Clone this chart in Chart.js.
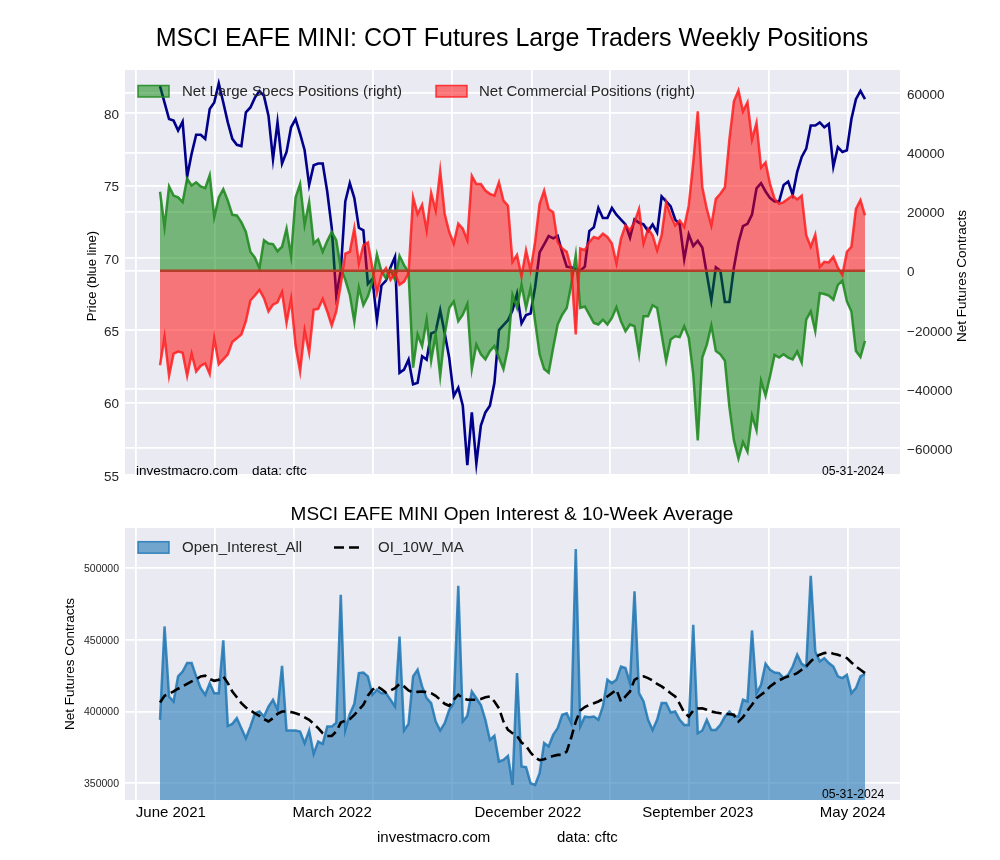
<!DOCTYPE html>
<html>
<head>
<meta charset="utf-8">
<script src="https://cdn.jsdelivr.net/npm/chart.js@4.4.1/dist/chart.umd.min.js"></script>
<style>
  html, body { margin: 0; padding: 0; background: #ffffff; }
  #wrap { position: relative; width: 1000px; height: 860px; background: #ffffff; }
  canvas { position: absolute; left: 0; }
</style>
</head>
<body>
<div id="wrap">
  <canvas id="c1" width="1000" height="490" style="top:0px"></canvas>
  <canvas id="c2" width="1000" height="370" style="top:490px"></canvas>
</div>
<script>
// ---------------- DATA (weekly, June 2021 -> May 2024) ----------------
const price = [81.89,80.75,79.61,79.50,78.81,79.43,75.62,77.22,78.52,78.52,
78.24,80.30,80.75,82.07,80.75,79.38,78.24,77.83,77.74,80.07,
80.41,81.09,81.55,81.21,79.84,76.83,79.38,76.53,77.33,79.04,
79.61,78.59,77.45,75.05,76.42,76.53,76.53,74.60,72.09,67.41,
69.12,73.91,75.17,74.14,72.09,71.91,68.21,68.55,65.70,68.10,
68.44,69.35,70.08,62.06,62.28,62.97,61.26,61.37,63.20,62.97,
64.79,64.91,66.39,64.79,63.08,60.46,61.03,59.78,55.67,59.32,
55.79,58.41,59.32,59.78,61.37,65.02,65.36,65.70,66.39,67.53,
65.48,66.05,66.16,67.98,70.38,70.95,71.52,71.36,71.52,70.38,
69.40,69.35,69.24,69.12,69.40,71.86,72.13,73.46,72.77,72.77,
73.46,73.00,72.66,72.32,71.40,72.66,72.43,72.32,71.86,72.32,
71.75,74.25,73.91,73.57,72.66,72.32,69.92,71.63,70.83,71.18,
70.72,68.90,67.07,69.35,69.12,66.96,66.96,69.35,71.06,72.20,
72.36,73.00,74.82,75.17,74.60,74.14,73.91,73.91,75.05,75.28,
74.37,75.96,76.99,77.56,79.16,79.16,79.38,79.04,79.27,76.31,
77.67,77.33,77.45,79.61,80.98,81.55,80.98];

const netLargeSpecs = [26700,14800,28500,25400,24800,23200,31200,28800,29900,28500,
27900,32300,18100,24800,27600,23700,18900,18700,16400,13100,
6400,4400,800,10300,9200,9000,6600,8100,14200,5000,
24800,29300,15600,23200,9200,10600,6400,10000,13100,10300,
800,-3100,-8200,-17300,-5700,-11700,-8700,-3700,5500,-300,
-2600,200,-3100,5000,1900,-600,-32800,-21600,-25500,-16600,
-30500,-21600,-35600,-21600,-12600,-10400,-17100,-14900,-11300,-33300,
-25000,-28300,-30000,-27200,-25500,-29400,-33300,-26100,-8200,-12600,
-4800,-12600,-5900,-17100,-28300,-33300,-34500,-26100,-18200,-14900,
-12600,-4800,5300,-12600,-12100,-14900,-17700,-18200,-16600,-18200,
-16000,-12400,-17100,-20500,-18200,-18800,-28300,-15400,-15400,-11700,
-12600,-21600,-30500,-23300,-22200,-22500,-18800,-22700,-35000,-57400,
-29400,-25000,-18500,-27200,-28300,-30500,-46200,-57400,-63600,-58000,
-61300,-49000,-54000,-37300,-42300,-35600,-28500,-29400,-28300,-29400,
-30000,-27400,-31100,-16600,-13800,-20500,-7600,-7900,-8400,-9800,
-4800,-3400,-10400,-13800,-27200,-29200,-23800];

const netCommercial = [-32000,-22500,-35600,-28100,-27400,-27800,-35600,-28100,-34100,-32200,
-31400,-35000,-22900,-31700,-30000,-28300,-24100,-22900,-21600,-17100,
-10100,-8400,-6500,-9300,-13800,-11500,-10700,-7300,-17700,-9600,
-25500,-34100,-20300,-27800,-13200,-12900,-9600,-13800,-18600,-13800,
-4800,5800,6400,14400,2500,8600,9500,800,-7600,-1500,
800,-3100,-900,-4800,-3700,-900,24800,19200,22300,13700,
26300,20400,33800,19200,13100,9200,15900,14200,10300,32100,
29300,29300,27100,26000,25400,29900,23700,22000,3000,5300,
-2000,6900,200,9700,22600,27100,20900,19800,9700,7500,
6400,800,-21600,7500,6900,9700,11400,10900,12500,11400,
9200,2500,10900,15300,13700,16400,20900,9200,14200,12000,
6900,12000,23200,18700,15300,17000,14800,22000,36600,53900,
28200,20900,15300,24300,26000,28200,44400,57300,61000,53900,
57000,44400,50000,34900,36600,29300,24300,22600,23200,24300,
25400,24100,25400,12000,8100,12200,1300,3000,2800,4700,
1000,-1500,6400,8100,20900,23900,18700];

const openInterest = [394200,459300,410500,407000,424500,427900,433800,433800,424500,416300,
411700,419800,412800,412800,449600,390000,391400,395400,388400,381400,
389500,398800,400000,396500,403500,408200,401200,431900,386800,386800,
386800,386100,378000,386800,370500,379100,377500,389500,389500,392300,
481400,387200,398400,405400,426800,427200,424500,411700,415200,412800,
412800,408200,403500,452300,386800,391400,424500,429200,417500,409300,
405900,393100,386800,391900,401200,405900,487700,393100,397000,414000,
409300,404600,394200,380200,383100,365200,366300,369100,348900,426800,
361700,361200,350000,348900,357000,378000,375600,383700,388400,397700,
398800,391900,513200,389500,396500,396000,396500,394200,403500,422100,
419800,422100,431400,430300,419800,483700,412800,407000,394200,387200,
394200,405900,405900,399300,400000,394200,390700,390700,460500,384900,
386800,394200,387200,387200,390700,396500,400000,396500,396500,408200,
407000,456500,412800,418600,433300,429100,427200,426800,423300,425600,
431400,439600,433300,431400,494600,441900,434900,437200,433800,431400,
424500,423300,425600,412800,416300,424500,426300];

const oi10wMA = [406300,411000,412300,414000,415900,417500,419300,421000,422600,424500,
425000,422600,421400,422100,424500,419800,414000,410000,405800,402800,
400700,398800,397000,394700,393100,395400,398400,400000,400000,399600,
398800,397700,396000,394200,391400,388400,384900,383000,383000,386100,
392300,393700,394700,397700,401200,404700,411000,415200,417500,415600,
413300,414700,416300,419300,417500,414700,413300,413700,414000,413500,
412800,411000,408200,405400,404000,408200,411700,409300,408200,408200,
408200,408700,410000,410500,407000,402300,393000,387200,384900,383000,
378400,376100,371400,367900,366100,366700,367900,369100,369800,369800,
372100,381900,393000,400700,403100,404700,405800,407000,408700,410500,
412800,415200,407000,410500,414000,422100,424000,424500,423300,421700,
419300,417500,415200,412800,410500,405400,399300,396500,400700,402100,
402300,401200,400000,399300,398800,398400,398100,397700,393000,396000,
400700,404700,409300,411700,414000,417500,419800,421700,423300,424500,
425400,426800,429100,431400,434900,437900,439600,440700,441200,440300,
439600,438400,437200,434200,431400,429100,426800];

// week index of each observation (category axis)
const weekIndex = price.map((_, i) => i);

// tick definitions
const priceTicks = [55, 60, 65, 70, 75, 80];
const positionTicks = [-60000, -40000, -20000, 0, 20000, 40000, 60000];
const oiTicks = [350000, 400000, 450000, 500000];
const gridWeeks = [-5.3, 12.2, 29.6, 47.1, 64.6, 82.3, 99.6, 117.1, 134.8, 152.2];
const labelWeeks = [2.4, 38.1, 81.4, 119.0, 153.3];
const dateLabels = ['June 2021', 'March 2022', 'December 2022', 'September 2023', 'May 2024'];

// ---------------- STYLE ----------------
const FONT = "'Liberation Sans', Arial, sans-serif";
const TXT = '#262626';
const PLOT_BG = '#EAEAF2';
const X_MIN = -7.75, X_MAX = 163.75;

Chart.defaults.font.family = FONT;
Chart.defaults.color = TXT;

const fmtSigned = v => (v < 0 ? '\u2212' + Math.abs(v) : String(v));

const plotBg = {
  id: 'plotBg',
  beforeDraw(chart) {
    const a = chart.chartArea, c = chart.ctx;
    c.save();
    c.fillStyle = PLOT_BG;
    c.fillRect(a.left, a.top, a.right - a.left, a.bottom - a.top);
    c.restore();
  }
};

const zeroLine = {
  id: 'zeroLine',
  afterDatasetsDraw(chart) {
    const s = chart.scales.y1;
    if (!s) return;
    const c = chart.ctx;
    const y = s.getPixelForValue(0);
    c.save();
    c.strokeStyle = 'rgba(178,58,36,0.95)';
    c.lineWidth = 2.5;
    c.beginPath();
    c.moveTo(chart.scales.x.getPixelForValue(weekIndex[0]), y);
    c.lineTo(chart.scales.x.getPixelForValue(weekIndex[weekIndex.length - 1]), y);
    c.stroke();
    c.restore();
  }
};

const overlay = {
  id: 'overlay',
  afterDraw(chart, args, opts) {
    const c = chart.ctx;
    (opts.items || []).forEach(it => {
      c.save();
      if (it.type === 'patch') {
        c.fillStyle = it.fill;
        c.fillRect(it.x, it.y, it.w, it.h);
        c.strokeStyle = it.stroke;
        c.lineWidth = 1.5;
        c.strokeRect(it.x, it.y, it.w, it.h);
      } else if (it.type === 'dash') {
        c.strokeStyle = it.color;
        c.lineWidth = 2.5;
        c.setLineDash(it.dash);
        c.beginPath();
        c.moveTo(it.x1, it.y);
        c.lineTo(it.x2, it.y);
        c.stroke();
      } else {
        c.font = it.font;
        c.fillStyle = it.color || TXT;
        c.textAlign = it.align || 'left';
        c.textBaseline = 'middle';
        c.translate(it.x, it.y);
        if (it.rot) c.rotate(it.rot);
        c.fillText(it.text, 0, 0);
      }
      c.restore();
    });
  }
};

const gridStyle = { color: '#ffffff', lineWidth: 1.8, drawTicks: false };

// ---------------- TOP CHART ----------------
new Chart(document.getElementById('c1'), {
  type: 'line',
  data: {
    labels: weekIndex,
    datasets: [
      { label: 'Net Large Specs Positions (right)', data: netLargeSpecs, yAxisID: 'y1',
        borderColor: 'rgba(34,139,34,0.9)', backgroundColor: 'rgba(0,128,0,0.5)',
        fill: 'origin', borderWidth: 2.5, pointRadius: 0, tension: 0, order: 2 },
      { label: 'Net Commercial Positions (right)', data: netCommercial, yAxisID: 'y1',
        borderColor: 'rgba(255,25,25,0.82)', backgroundColor: 'rgba(255,0,0,0.5)',
        fill: 'origin', borderWidth: 2.5, pointRadius: 0, tension: 0, order: 1 },
      { label: 'Price', data: price, yAxisID: 'y',
        borderColor: '#00008B', borderWidth: 2.6, pointRadius: 0, tension: 0, fill: false, order: 3 }
    ]
  },
  options: {
    responsive: false, animation: false, devicePixelRatio: 1, events: [],
    layout: { padding: { top: 70, left: 0, right: 0, bottom: 0 } },
    plugins: {
      legend: { display: false }, tooltip: { enabled: false },
      overlay: { items: [
        { text: 'MSCI EAFE MINI: COT Futures Large Traders Weekly Positions', x: 512, y: 39, font: `25px ${FONT}`, align: 'center', color: '#000' },
        { text: 'Price (blue line)', x: 92, y: 276, font: `13px ${FONT}`, align: 'center', rot: -Math.PI / 2, color: '#000' },
        { text: 'Net Futures Contracts', x: 962, y: 276, font: `13.5px ${FONT}`, align: 'center', rot: -Math.PI / 2, color: '#000' },
        { text: 'investmacro.com', x: 136, y: 471, font: `13.5px ${FONT}`, color: '#000' },
        { text: 'data: cftc', x: 252, y: 471, font: `13.5px ${FONT}`, color: '#000' },
        { text: '05-31-2024', x: 822, y: 472, font: `12.2px ${FONT}`, color: '#000' },
        { type: 'patch', x: 138, y: 85.5, w: 31, h: 11.5, fill: 'rgba(0,128,0,0.5)', stroke: 'rgba(34,139,34,0.9)' },
        { text: 'Net Large Specs Positions (right)', x: 182, y: 92, font: `15px ${FONT}` },
        { type: 'patch', x: 436, y: 85.5, w: 31, h: 11.5, fill: 'rgba(255,0,0,0.5)', stroke: 'rgba(255,25,25,0.82)' },
        { text: 'Net Commercial Positions (right)', x: 479, y: 92, font: `15px ${FONT}` }
      ] }
    },
    scales: {
      x: {
        type: 'linear', min: X_MIN, max: X_MAX,
        afterBuildTicks: s => { s.ticks = gridWeeks.map(v => ({ value: v })); },
        ticks: { display: false }, grid: gridStyle, border: { display: false },
        afterFit: s => { s.height = 12; }
      },
      y: {
        type: 'linear', position: 'left', min: 55, max: 83,
        afterBuildTicks: s => { s.ticks = priceTicks.map(v => ({ value: v })); },
        ticks: { font: { size: 13.5 }, color: TXT, padding: 6, labelOffset: 2, autoSkip: false, callback: v => String(v) },
        grid: gridStyle, border: { display: false },
        afterFit: s => { s.width = 125; }
      },
      y1: {
        type: 'linear', position: 'right', min: -69100, max: 67900,
        afterBuildTicks: s => { s.ticks = positionTicks.map(v => ({ value: v })); },
        ticks: { font: { size: 13.5 }, color: TXT, padding: 7, labelOffset: 2, autoSkip: false, callback: fmtSigned },
        grid: gridStyle, border: { display: false },
        afterFit: s => { s.width = 100; }
      }
    }
  },
  plugins: [plotBg, zeroLine, overlay]
});

// ---------------- BOTTOM CHART ----------------
new Chart(document.getElementById('c2'), {
  type: 'line',
  data: {
    labels: weekIndex,
    datasets: [
      { label: 'Open_Interest_All', data: openInterest,
        borderColor: 'rgba(31,119,180,0.85)', backgroundColor: 'rgba(31,119,180,0.6)',
        fill: 'start', borderWidth: 2.5, pointRadius: 0, tension: 0, order: 2 },
      { label: 'OI_10W_MA', data: oi10wMA,
        borderColor: '#000000', borderDash: [10, 5], borderWidth: 2.6,
        fill: false, pointRadius: 0, tension: 0, order: 1 }
    ]
  },
  options: {
    responsive: false, animation: false, devicePixelRatio: 1, events: [],
    layout: { padding: { top: 38, left: 0, right: 100, bottom: 0 } },
    plugins: {
      legend: { display: false }, tooltip: { enabled: false },
      overlay: { items: [
        { text: 'MSCI EAFE MINI Open Interest & 10-Week Average', x: 512, y: 25, font: `19px ${FONT}`, align: 'center', color: '#000' },
        { text: 'Net Futures Contracts', x: 70, y: 174, font: `13.5px ${FONT}`, align: 'center', rot: -Math.PI / 2, color: '#000' },
        { type: 'patch', x: 138, y: 51.7, w: 31, h: 11.5, fill: 'rgba(31,119,180,0.6)', stroke: 'rgba(31,119,180,0.85)' },
        { text: 'Open_Interest_All', x: 182, y: 57.5, font: `15px ${FONT}` },
        { type: 'dash', x1: 334, x2: 363, y: 57.5, color: '#000', dash: [10, 5] },
        { text: 'OI_10W_MA', x: 378, y: 57.5, font: `15px ${FONT}` },
        { text: '05-31-2024', x: 822, y: 305, font: `12.2px ${FONT}`, color: '#000' },
        { text: 'investmacro.com', x: 377, y: 348, font: `15px ${FONT}`, color: '#000' },
        { text: 'data: cftc', x: 557, y: 348, font: `15px ${FONT}`, color: '#000' }
      ] }
    },
    scales: {
      x: {
        type: 'linear', min: X_MIN, max: X_MAX, position: 'bottom',
        afterBuildTicks: s => { s.ticks = gridWeeks.map(v => ({ value: v })); },
        ticks: { display: false }, grid: gridStyle, border: { display: false },
        afterFit: s => { s.height = 0; }
      },
      xl: {
        type: 'linear', min: X_MIN, max: X_MAX, position: 'bottom',
        afterBuildTicks: s => { s.ticks = labelWeeks.map(v => ({ value: v })); },
        ticks: { font: { size: 15 }, color: '#000', padding: -4, autoSkip: false, maxRotation: 0,
                 callback: v => { const k = labelWeeks.indexOf(v); return k >= 0 ? dateLabels[k] : ''; } },
        grid: { display: false }, border: { display: false },
        afterFit: s => { s.height = 60; }
      },
      y: {
        type: 'linear', position: 'left', min: 338350, max: 527900,
        afterBuildTicks: s => { s.ticks = oiTicks.map(v => ({ value: v })); },
        ticks: { font: { size: 10.5 }, color: TXT, padding: 6, labelOffset: 1, autoSkip: false, callback: v => String(v) },
        grid: gridStyle, border: { display: false },
        afterFit: s => { s.width = 125; }
      }
    }
  },
  plugins: [plotBg, overlay]
});
</script>
</body>
</html>
